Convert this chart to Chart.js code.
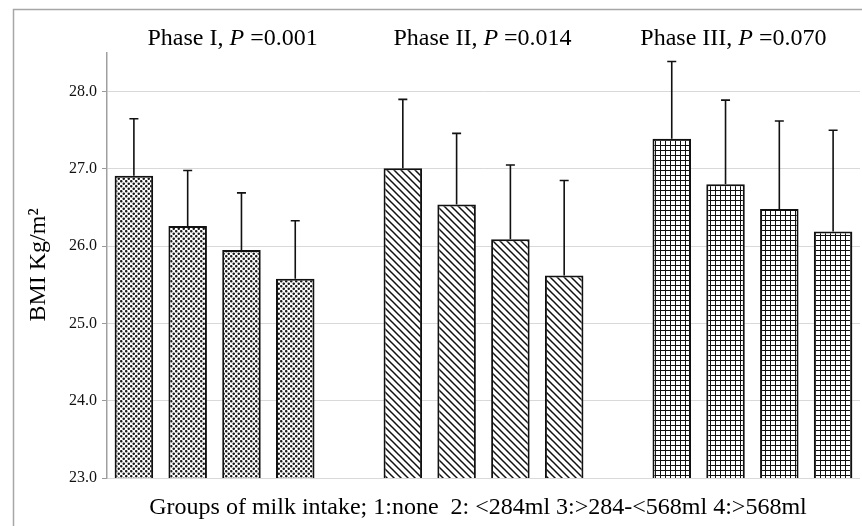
<!DOCTYPE html>
<html>
<head>
<meta charset="utf-8">
<script src="https://cdn.jsdelivr.net/npm/chart.js@4.4.0/dist/chart.umd.min.js"></script>
<style>
  html, body { margin: 0; padding: 0; background: #fff; }
  #wrap { width: 862px; height: 526px; }
</style>
</head>
<body>
<div id="wrap"><canvas id="c" width="862" height="526"></canvas></div>
<script>
// ---- data ----
const categories = ['1', '2', '3', '4', '', '1', '2', '3', '4', '', '1', '2', '3', '4'];
const phase1Means = [26.91, 26.26, 25.95, 25.58];
const phase1Err   = [0.74, 0.72, 0.74, 0.75];
const phase2Means = [27.01, 26.54, 26.09, 25.62];
const phase2Err   = [0.89, 0.92, 0.96, 1.23];
const phase3Means = [27.39, 26.80, 26.48, 26.19];
const phase3Err   = [1.00, 1.09, 1.14, 1.31];
const yTicks = [23, 24, 25, 26, 27, 28];
const phaseLabels = [
  ['Phase I, ', 'P', ' =0.001'],
  ['Phase II, ', 'P', ' =0.014'],
  ['Phase III, ', 'P', ' =0.070']
];
const xTitle = 'Groups of milk intake; 1:none  2: <284ml 3:>284-<568ml 4:>568ml';
const yTitle = 'BMI Kg/m\u00B2';

// ---- patterns ----
const ctxMain = document.getElementById('c').getContext('2d');
function makePattern(kind) {
  const c = document.createElement('canvas');
  const ctx = c.getContext('2d');
  if (kind === 'dots') {
    const s = 5;
    c.width = s; c.height = s;
    ctx.fillStyle = '#fff'; ctx.fillRect(0, 0, s, s);
    ctx.fillStyle = '#1a1a1a';
    const pts = [[1.25, 1.25], [3.75, 3.75], [6.25, 1.25], [1.25, 6.25], [-1.25, 3.75], [3.75, -1.25]];
    pts.forEach(([x, y]) => { ctx.beginPath(); ctx.arc(x, y, 1.28, 0, Math.PI * 2); ctx.fill(); });
  } else if (kind === 'diag') {
    const s = 7;
    c.width = s; c.height = s;
    ctx.fillStyle = '#fff'; ctx.fillRect(0, 0, s, s);
    ctx.strokeStyle = '#111'; ctx.lineWidth = 1.5;
    ctx.beginPath();
    ctx.moveTo(-1, -1); ctx.lineTo(s + 1, s + 1);
    ctx.moveTo(-1, s - 1); ctx.lineTo(1, s + 1);
    ctx.moveTo(s - 1, -1); ctx.lineTo(s + 1, 1);
    ctx.stroke();
  } else {
    const s = 5;
    c.width = s; c.height = s;
    ctx.fillStyle = '#fff'; ctx.fillRect(0, 0, s, s);
    ctx.fillStyle = '#111';
    ctx.fillRect(0, 0, s, 1);
    ctx.fillRect(0, 0, 1, s);
  }
  return ctxMain.createPattern(c, 'repeat');
}
const pDots = makePattern('dots');
const pDiag = makePattern('diag');
const pGrid = makePattern('grid');

const means = [...phase1Means, null, ...phase2Means, null, ...phase3Means];
const errs  = [...phase1Err, null, ...phase2Err, null, ...phase3Err];
const fills = [pDots, pDots, pDots, pDots, null, pDiag, pDiag, pDiag, pDiag, null, pGrid, pGrid, pGrid, pGrid];

const serif = '"Liberation Serif", "DejaVu Serif", serif';

const decor = {
  id: 'decor',
  beforeDraw(chart) {
    const ctx = chart.ctx;
    ctx.save();
    ctx.fillStyle = '#fff';
    ctx.fillRect(0, 0, chart.width, chart.height);
    ctx.strokeStyle = '#a6a6a6';
    ctx.lineWidth = 1.5;
    ctx.beginPath();
    ctx.moveTo(13.5, chart.height + 2);
    ctx.lineTo(13.5, 9.5);
    ctx.lineTo(chart.width + 2, 9.5);
    ctx.stroke();
    ctx.restore();
  },
  afterDatasetsDraw(chart) {
    const ctx = chart.ctx;
    const meta = chart.getDatasetMeta(0);
    const ys = chart.scales.y;
    ctx.save();
    ctx.strokeStyle = '#111';
    ctx.lineWidth = 1.6;
    meta.data.forEach((bar, i) => {
      if (means[i] == null) return;
      const yTop = ys.getPixelForValue(means[i] + errs[i]);
      const yBar = ys.getPixelForValue(means[i]);
      ctx.beginPath();
      ctx.moveTo(bar.x, yBar);
      ctx.lineTo(bar.x, yTop);
      ctx.moveTo(bar.x - 4.5, yTop);
      ctx.lineTo(bar.x + 4.5, yTop);
      ctx.stroke();
    });
    ctx.restore();
  },
  afterDraw(chart) {
    const ctx = chart.ctx;
    const xs = chart.scales.x;
    ctx.save();
    ctx.fillStyle = '#000';
    ctx.textBaseline = 'alphabetic';
    // phase titles
    const offsets = [18, -1, -19];
    const groupMid = [1.5, 6.5, 11.5];
    phaseLabels.forEach((parts, g) => {
      const cx = (xs.getPixelForValue(Math.floor(groupMid[g])) + xs.getPixelForValue(Math.ceil(groupMid[g]))) / 2 + offsets[g];
      const fonts = ['24px ' + serif, 'italic 24px ' + serif, '24px ' + serif];
      let total = 0;
      const widths = parts.map((t, k) => { ctx.font = fonts[k]; const w = ctx.measureText(t).width; total += w; return w; });
      let x = cx - total / 2;
      ctx.textAlign = 'left';
      parts.forEach((t, k) => { ctx.font = fonts[k]; ctx.fillText(t, x, 45); x += widths[k]; });
    });
    // x title
    ctx.font = '24px ' + serif;
    ctx.textAlign = 'center';
    ctx.fillText(xTitle, 478, 514);
    // y title
    ctx.translate(45, 265);
    ctx.rotate(-Math.PI / 2);
    ctx.fillText(yTitle, 0, 0);
    ctx.restore();
  }
};

new Chart(ctxMain, {
  type: 'bar',
  data: {
    labels: categories,
    datasets: [{
      data: means,
      backgroundColor: fills,
      borderColor: '#111',
      borderWidth: 2,
      borderSkipped: false,
      barPercentage: 0.716,
      categoryPercentage: 1.0
    }]
  },
  options: {
    responsive: false,
    animation: false,
    events: [],
    layout: { padding: { left: 0, right: 2, top: 53, bottom: 0 } },
    plugins: { legend: { display: false }, tooltip: { enabled: false }, title: { display: false } },
    scales: {
      x: {
        grid: { display: false },
        border: { display: false },
        ticks: { display: false },
        afterFit(s) { s.height = 48; }
      },
      y: {
        min: 23,
        max: 28.5,
        afterFit(s) { s.width = 107; },
        afterBuildTicks(s) { s.ticks = yTicks.map(v => ({ value: v })); },
        grid: { color: '#d9d9d9', lineWidth: 1, tickLength: 5, tickColor: '#999' },
        border: { color: '#a0a0a0', width: 1.5 },
        ticks: {
          padding: 5,
          color: '#111',
          font: { family: serif, size: 16 },
          callback: v => Number(v).toFixed(1)
        }
      }
    }
  },
  plugins: [decor]
});
</script>
</body>
</html>
